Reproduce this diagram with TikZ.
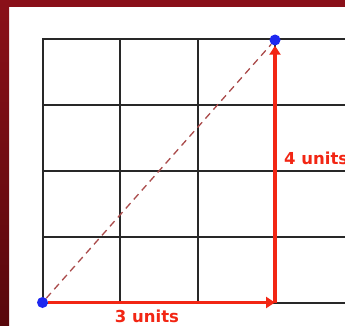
\documentclass[tikz,border=0pt]{standalone}
\usepackage{fontspec}
\newfontfamily\unitfont{DejaVu Sans}
\usetikzlibrary{arrows.meta}
\definecolor{framered}{RGB}{138,16,25}
\definecolor{framedark}{RGB}{88,8,12}
\definecolor{legred}{RGB}{242,38,20}
\definecolor{dotblue}{RGB}{30,40,240}
\definecolor{hypbrown}{RGB}{170,75,75}
\definecolor{gridgray}{RGB}{40,40,40}

\begin{document}
\begin{tikzpicture}[x=1pt,y=-1pt,
	gridline/.style={gridgray, line width=2pt, line cap=rect},
	leg/.style={legred, line width=3.2pt, -{Triangle[length=9pt,width=11pt]}},
	hyp/.style={hypbrown, line width=1.3pt, dash pattern=on 7pt off 5pt},
	dot/.style={circle, fill=dotblue, inner sep=0pt, minimum size=11pt},
	unitlabel/.style={text=legred, inner sep=0pt, font=\unitfont\bfseries\fontsize{16.5}{18}\selectfont}]
	\useasboundingbox (0,0) rectangle (345,326);
	\fill[white] (0,0) rectangle (345,326);
	\fill[framered] (0,0) rectangle (345,7);
	\shade[top color=framered, bottom color=framedark] (0,0) rectangle (9,326);
	% grid
	\foreach \y in {39,105,171,237,303}
	{
		\draw[gridline] (42.5,\y) -- (345,\y);
	}
	\foreach \x in {42.5,120,197.5,275}
	{
		\draw[gridline] (\x,39) -- (\x,303);
	}
	% points and legs
	\node[dot] (start) at (42.5,302.5) {};
	\node[dot] (end) at (275,40) {};
	\coordinate (turn) at (275,302.5);
	\draw[hyp] (start) -- (end);
	\draw[leg] (start) -- (turn);
	\draw[leg] (turn) -- (end);
	\node[unitlabel, anchor=base] (run) at (147,322) {3 units};
	\node[unitlabel, anchor=base west] (rise) at (284,164) {4 units};
\end{tikzpicture}
\end{document}
